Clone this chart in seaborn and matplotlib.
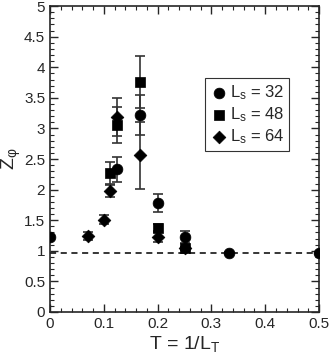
import numpy as np
import pandas as pd
import matplotlib
matplotlib.use("Agg")
import matplotlib.pyplot as plt
from matplotlib.ticker import MultipleLocator, FuncFormatter
import seaborn as sns

# values
T32 = [0, 0.125, 0.1667, 0.2, 0.25, 0.3333, 0.5]
Z32 = [1.23, 2.33, 3.22, 1.78, 1.23, 0.96, 0.96]
E32 = [0.03, 0.2, 0.33, 0.15, 0.1, 0.02, 0.02]

T48 = [0.1111, 0.125, 0.1667, 0.2, 0.25]
Z48 = [2.27, 3.06, 3.76, 1.38, 1.04]
E48 = [0.18, 0.29, 0.42, 0.06, 0.03]

T64 = [0.0714, 0.1, 0.1111, 0.125, 0.1667, 0.2, 0.25]
Z64 = [1.24, 1.51, 1.98, 3.18, 2.56, 1.23, 1.04]
E64 = [0.06, 0.07, 0.1, 0.31, 0.55, 0.08, 0.03]

Z_inf = 0.96

labels = ["$\\mathregular{L_s}$ = 32", "$\\mathregular{L_s}$ = 48", "$\\mathregular{L_s}$ = 64"]
markers = {labels[0]: "o", labels[1]: "s", labels[2]: "D"}

df = pd.concat([
    pd.DataFrame({"T": T32, "Z": Z32, "err": E32, "series": labels[0]}),
    pd.DataFrame({"T": T48, "Z": Z48, "err": E48, "series": labels[1]}),
    pd.DataFrame({"T": T64, "Z": Z64, "err": E64, "series": labels[2]}),
], ignore_index=True)

sns.set_style("ticks")
plt.rcParams['font.family'] = ['Liberation Sans', 'DejaVu Sans']
plt.rcParams['mathtext.fontset'] = 'custom'
plt.rcParams['mathtext.rm'] = 'Liberation Sans'
plt.rcParams['mathtext.it'] = 'Liberation Sans'

fig = plt.figure(figsize=(3.32, 3.58), dpi=100)
ax = fig.add_axes([0.1506, 0.1285, 0.8104, 0.8545])

ax.axhline(Z_inf, color="black", ls=(0, (4, 3)), lw=1.1, zorder=1)

for name, g in df.groupby("series", sort=False):
    ax.errorbar(g["T"], g["Z"], yerr=g["err"], fmt="none", ecolor="#333333",
                elinewidth=1.2, capsize=3.5, capthick=1.2, zorder=2)

sizes = {labels[0]: 60, labels[1]: 45, labels[2]: 42}
for name, g in df.groupby("series", sort=False):
    sns.scatterplot(data=g, x="T", y="Z", marker=markers[name], s=sizes[name],
                    color="black", edgecolor="black", linewidth=0.5,
                    label=name, ax=ax, zorder=3)

ax.set_xlim(0, 0.5)
ax.set_ylim(0, 5)
ax.xaxis.set_major_locator(MultipleLocator(0.1))
ax.xaxis.set_minor_locator(MultipleLocator(0.02))
ax.yaxis.set_major_locator(MultipleLocator(0.5))
ax.yaxis.set_minor_locator(MultipleLocator(0.1))
fmt = FuncFormatter(lambda v, p: f"{v:g}")
ax.xaxis.set_major_formatter(fmt)
ax.yaxis.set_major_formatter(fmt)
ax.tick_params(which="both", direction="in", top=True, right=True, labelsize=11)
ax.tick_params(which="major", length=6, width=1)
ax.tick_params(which="minor", length=3, width=0.8)
for s in ax.spines.values():
    s.set_linewidth(1.2)

ax.set_xlabel("T = 1/$\\mathregular{L_T}$", fontsize=14, labelpad=2)
ax.set_ylabel("$\\mathregular{Z_\\varphi}$", fontsize=14)
ax.yaxis.set_label_coords(-0.1, 0.5)

leg = ax.legend(loc="upper right", bbox_to_anchor=(0.89, 0.765), fontsize=12,
                frameon=True, fancybox=False, edgecolor="black",
                handletextpad=0.1, borderpad=0.3, labelspacing=0.2,
                handlelength=1.1, borderaxespad=0)
leg.get_frame().set_linewidth(0.8)

fig.savefig("out.png", dpi=100)
